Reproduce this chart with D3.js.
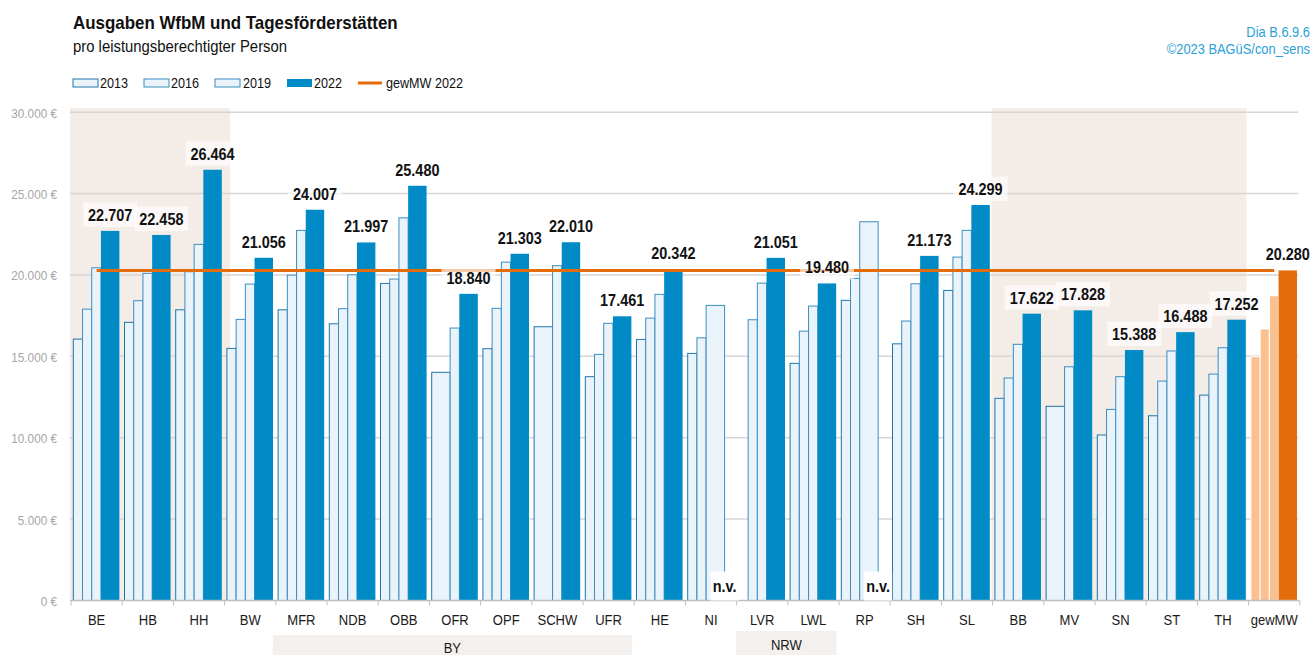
<!DOCTYPE html>
<html><head><meta charset="utf-8">
<script src="https://cdn.jsdelivr.net/npm/d3@7/dist/d3.min.js"></script>
<style>html,body{margin:0;padding:0;background:#fff}svg{display:block;font-family:"Liberation Sans",Arial,sans-serif}</style>
</head><body>
<script>
// ---- data ----
const categories = ["BE","HB","HH","BW","MFR","NDB","OBB","OFR","OPF","SCHW","UFR","HE","NI","LVR","LWL","RP","SH","SL","BB","MV","SN","ST","TH","gewMW"];
const years = ["2013","2016","2019","2022"];
const v2013 = [16060,17090,17860,15490,17860,17000,19480,14020,15470,16820,13750,16040,15180,null,14570,18440,15770,19050,12420,11930,10170,11350,12620,14980];
const v2016 = [17900,18420,20200,17270,19990,17930,19750,null,17950,null,15120,17350,16140,17250,16550,19790,17170,21100,13670,null,11740,13480,13910,16680];
const v2019 = [20440,20100,21880,19440,22740,20010,23510,16740,20790,20570,17030,18810,18130,19500,18090,23270,19460,22740,15740,14360,13750,15330,15530,18720];
const v2022 = [22707,22458,26464,21056,24007,21997,25480,18840,21303,22010,17461,20342,null,21051,19480,null,21173,24299,17622,17828,15388,16488,17252,20280];
const meanValue = 20280;
const meanLabel = "gewMW 2022";
const yTicks = [0,5000,10000,15000,20000,25000,30000];
const shadedGroups = [["BE","HH"],["BB","TH"]];
const regionGroups = [{label:"BY",from:"MFR",to:"UFR"},{label:"NRW",from:"LVR",to:"LWL"}];
const title = "Ausgaben WfbM und Tagesförderstätten";
const subtitle = "pro leistungsberechtigter Person";
const source1 = "Dia B.6.9.6";
const source2 = "©2023 BAGüS/con_sens";
const missingText = "n.v.";

const series = [v2013, v2016, v2019, v2022];
const W = 1312, H = 655;
const svg = d3.select("body").append("svg").attr("width", W).attr("height", H);

const de = d3.formatLocale({decimal:",", thousands:".", grouping:[3], currency:["","\u00a0€"]});
const fmt = de.format(",");

const x = d3.scaleBand().domain(categories).range([71, 1299.8]).paddingInner(0).paddingOuter(0);
const y = d3.scaleLinear().domain([0, 30000]).range([600.5, 112.2]);
const bw = x.bandwidth();
const pad = bw * 0.045, unit = bw * 0.18;

function T(parent, px, py, str, o) {
  return parent.append("text")
    .attr("transform", `translate(${px},${py}) scale(${o.sx||1},1)`)
    .attr("font-size", o.size).attr("font-weight", o.weight || "normal")
    .attr("fill", o.fill || "#111").attr("text-anchor", o.anchor || "start")
    .text(str);
}

// shaded backgrounds
shadedGroups.forEach(([a, b], i) => {
  const x0 = x(a) - 1, x1 = i === 0 ? x(b) + bw + 5.5 : x(b) + bw - 2;
  svg.append("rect").attr("x", x0).attr("y", y(30000) - 4).attr("width", x1 - x0)
    .attr("height", y(0) - y(30000) + 4).attr("fill", "#f3ece7");
});

// gridlines
svg.append("g").selectAll("line").data(yTicks.filter(d => d > 0)).join("line")
  .attr("x1", 70).attr("x2", 1298).attr("y1", d => y(d)).attr("y2", d => y(d))
  .attr("stroke", "#d6d6d6").attr("stroke-width", 1.5);

// y axis labels via axis generator
const yAxis = svg.append("g").attr("transform", "translate(71,0)")
  .call(d3.axisLeft(y).tickValues(yTicks).tickSize(0).tickFormat(d => fmt(d) + " €"));
yAxis.select(".domain").remove();
yAxis.selectAll("text").attr("x", null).attr("dy", null)
  .attr("transform", "translate(-14,5) scale(0.87,1)")
  .attr("font-size", 13.5).attr("fill", "#a6a6a6").attr("font-family", "Liberation Sans, Arial, sans-serif");

// bars
const barsG = svg.append("g");
categories.forEach((c, i) => {
  const isMean = c === "gewMW";
  series.forEach((arr, k) => {
    const v = arr[i];
    if (v == null) return;
    const x0 = x(c) + pad + k * unit;
    let w;
    if (k === 3) w = 2 * unit;
    else w = (series[k + 1][i] == null) ? 2 * unit : unit;
    const r = barsG.append("rect").attr("x", x0).attr("y", y(v)).attr("width", w).attr("height", y(0) - y(v));
    if (k === 3) {
      r.attr("fill", isMean ? "#e46c0a" : "#008bc6");
    } else if (isMean) {
      r.attr("fill", "#fac090").attr("stroke", "#fff").attr("stroke-width", 1);
    } else {
      r.attr("fill", "#eaf3fa").attr("stroke", k === 0 ? "#1f76ab" : "#3b8ec2").attr("stroke-width", 1);
    }
  });
});

// x axis line + boundary ticks
svg.append("line").attr("x1", 70).attr("x2", 1299.5).attr("y1", y(0)).attr("y2", y(0))
  .attr("stroke", "#bfbfbf").attr("stroke-width", 1.5);
svg.append("g").selectAll("line").data(d3.range(categories.length + 1)).join("line")
  .attr("x1", d => 71 + d * bw).attr("x2", d => 71 + d * bw)
  .attr("y1", y(0)).attr("y2", y(0) + 5).attr("stroke", "#bfbfbf").attr("stroke-width", 1);

const xAxis = svg.append("g").attr("transform", `translate(0,${y(0)})`)
  .call(d3.axisBottom(x).tickSize(0).tickPadding(0));
xAxis.select(".domain").remove();
xAxis.selectAll("text").attr("y", null).attr("dy", null)
  .attr("transform", "translate(0,24.5) scale(0.87,1)")
  .attr("font-size", 15).attr("fill", "#1a1a1a").attr("font-family", "Liberation Sans, Arial, sans-serif");

// region boxes
regionGroups.forEach((g, i) => {
  const x0 = x(g.from) - (i === 0 ? 3 : 0.5), x1 = x(g.to) + bw - 2.3;
  const top = i === 0 ? 635 : 631;
  svg.append("rect").attr("x", x0).attr("y", top).attr("width", x1 - x0).attr("height", H - top).attr("fill", "#f4f0ed");
  T(svg, (x0 + x1) / 2, i === 0 ? 653 : 650, g.label, {size: 15, sx: 0.87, anchor: "middle", fill: "#1a1a1a"});
});

// mean line
svg.append("line").attr("x1", x(categories[0]) + bw / 2).attr("x2", x(categories[categories.length - 1]) + bw / 2)
  .attr("y1", y(meanValue)).attr("y2", y(meanValue)).attr("stroke", "#e46c0a").attr("stroke-width", 3);

// data labels
const labG = svg.append("g");
categories.forEach((c, i) => {
  const v = v2022[i];
  const cx = x(c) + pad + 4 * unit;
  if (v == null) {
    const by = 591.5;
    labG.append("rect").attr("x", cx - 14).attr("y", by - 20).attr("width", 28).attr("height", 29).attr("fill", "#fff");
    T(labG, cx, by, missingText, {size: 17, weight: "bold", sx: 0.85, anchor: "middle", fill: "#111"});
    return;
  }
  const by = y(v) - 10;
  if (c !== "gewMW") {
    labG.append("rect").attr("x", cx - 27).attr("y", by - 18.4).attr("width", 54).attr("height", 24.4)
      .attr("fill", "#fff").attr("fill-opacity", 0.65);
  }
  T(labG, cx, by, fmt(v), {size: 17, weight: "bold", sx: 0.85, anchor: "middle", fill: "#111"});
});

// titles
T(svg, 73, 29, title, {size: 18, weight: "bold", sx: 0.94, fill: "#111"});
T(svg, 73, 51.5, subtitle, {size: 16, sx: 0.93, fill: "#111"});
T(svg, 1310, 36.5, source1, {size: 14, sx: 0.92, anchor: "end", fill: "#2b9fd8"});
T(svg, 1310, 53.5, source2, {size: 14, sx: 0.92, anchor: "end", fill: "#2b9fd8"});

// legend
const leg = svg.append("g");
const legItems = [
  {t: years[0], sx: 73, tx: 100, type: "light", stroke: "#1f76ab"},
  {t: years[1], sx: 144, tx: 171, type: "light", stroke: "#3b8ec2"},
  {t: years[2], sx: 215, tx: 243, type: "light", stroke: "#3b8ec2"},
  {t: years[3], sx: 287, tx: 314, type: "dark"},
  {t: meanLabel, sx: 358, tx: 386, type: "line"}
];
legItems.forEach(d => {
  if (d.type === "line") {
    leg.append("line").attr("x1", d.sx).attr("x2", d.sx + 24).attr("y1", 83).attr("y2", 83)
      .attr("stroke", "#e46c0a").attr("stroke-width", 3);
  } else {
    const r = leg.append("rect").attr("x", d.sx).attr("y", 79).attr("width", 25).attr("height", 8);
    if (d.type === "dark") r.attr("fill", "#008bc6");
    else r.attr("fill", "#eaf3fa").attr("stroke", d.stroke).attr("stroke-width", 1);
  }
  T(leg, d.tx, 88, d.t, {size: 14.5, sx: 0.87, fill: "#111"});
});
</script>
</body></html>
